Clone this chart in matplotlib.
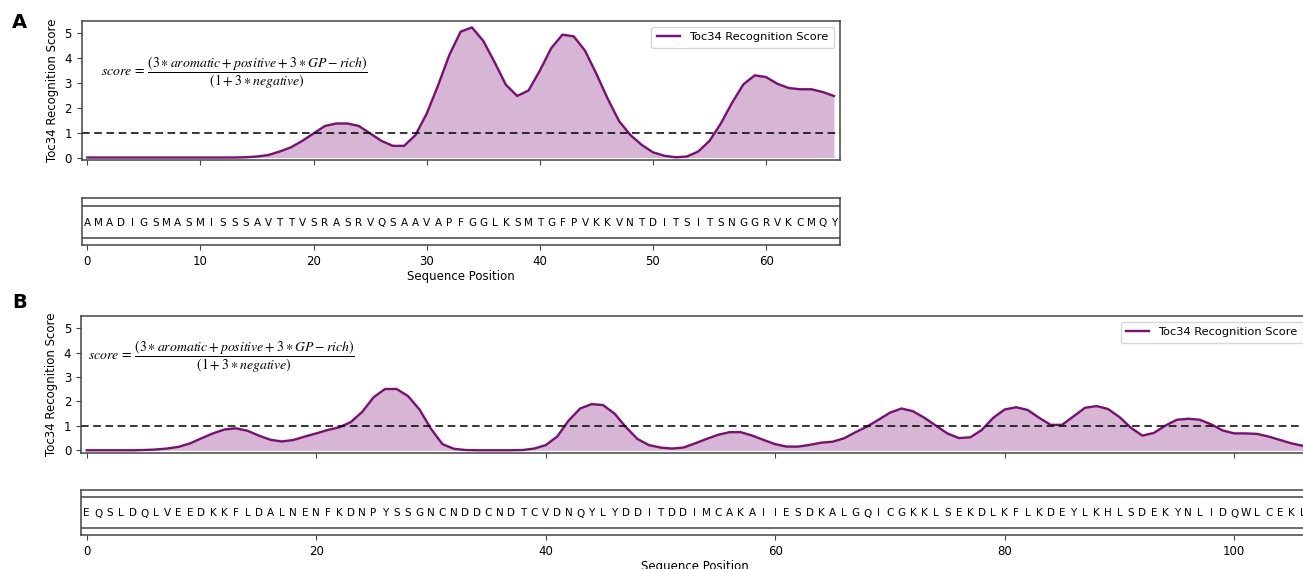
import matplotlib
matplotlib.use("Agg")
import matplotlib.pyplot as plt
from matplotlib.ticker import MultipleLocator

plt.rcParams['mathtext.fontset'] = 'stix'

# ---------------- data ----------------
seq_a = "AMADIGSMASMISSSAVTTVSRASRVQSAAVAPFGGLKSMTGFPVKKVNTDITSITSNGGRVKCMQY"
score_a = [0, 0, 0, 0, 0, 0, 0, 0, 0, 0,
           0, 0, 0, 0, 0.01, 0.04, 0.1, 0.24, 0.41, 0.67,
           0.97, 1.27, 1.37, 1.37, 1.27, 0.97, 0.67, 0.47, 0.47, 0.9,
           1.77, 2.9, 4.13, 5.07, 5.24, 4.7, 3.84, 2.93, 2.48, 2.7,
           3.5, 4.4, 4.95, 4.88, 4.3, 3.37, 2.37, 1.47, 0.91, 0.51,
           0.21, 0.07, 0.01, 0.04, 0.24, 0.67, 1.37, 2.21, 2.95, 3.31,
           3.24, 2.97, 2.8, 2.75, 2.75, 2.64, 2.48]

seq_b = ("EQSLDQLVEEDKKFLDALNENFKDNPYSSGNCNDDCNDTCVDNQYLYDDITDDIMCAKAIIESDKALGQI"
         "CGKKLSEKDLKFLKDEYLKHLSDEKYNLIDQWLCEKL")
score_b = [0, 0, 0, 0, 0, 0.01, 0.03, 0.07, 0.14, 0.28,
           0.49, 0.69, 0.85, 0.9, 0.8, 0.6, 0.43, 0.36, 0.42, 0.56,
           0.69, 0.83, 0.94, 1.15, 1.57, 2.17, 2.51, 2.51, 2.22, 1.67,
           0.88, 0.25, 0.06, 0.01, 0, 0, 0, 0, 0.01, 0.07,
           0.21, 0.56, 1.22, 1.71, 1.89, 1.85, 1.5, 0.94, 0.46, 0.21,
           0.11, 0.07, 0.11, 0.28, 0.46, 0.63, 0.74, 0.74, 0.6, 0.42,
           0.25, 0.15, 0.15, 0.22, 0.31, 0.35, 0.49, 0.74, 0.97, 1.25,
           1.54, 1.71, 1.6, 1.33, 1.01, 0.69, 0.5, 0.53, 0.83, 1.33,
           1.67, 1.76, 1.65, 1.33, 1.04, 1.04, 1.39, 1.74, 1.81, 1.69,
           1.36, 0.92, 0.6, 0.71, 1.01, 1.25, 1.29, 1.25, 1.06, 0.81,
           0.69, 0.69, 0.67, 0.56, 0.42, 0.28, 0.18]

threshold = 1.0
legend_label = "Toc34 Recognition Score"
formula = (r"$score\,=\,\dfrac{(3 \ast aromatic + positive + 3 \ast GP - rich)}"
           r"{(1 + 3 \ast negative)}$")

# ---------------- layout ----------------
W, H = 1303, 569
fig = plt.figure(figsize=(W / 100, H / 100), dpi=100)


def px_axes(left, top, right, bottom):
    return fig.add_axes([left / W, 1 - bottom / H, (right - left) / W, (bottom - top) / H])


line_color = '#7a0f73'
spine_color = '#444444'
fs = 8.5


def style_spines(ax):
    for s in ax.spines.values():
        s.set_color(spine_color)
        s.set_linewidth(1.1)


def draw_panel(score, seq, box_score, box_seq, step, formula_pos):
    n = len(seq)
    x = list(range(n))
    ax = px_axes(*box_score)
    ax.plot(x, score, color=line_color, lw=1.7, label=legend_label)
    ax.fill_between(x, score, 0, color=line_color, alpha=0.3, lw=0)
    ax.axhline(threshold, color='black', ls='--', lw=1.1, dashes=(5, 3))
    ax.set_xlim(-0.5, n - 0.5)
    ax.set_ylim(-0.1, 5.5)
    ax.yaxis.set_major_locator(MultipleLocator(1))
    ax.xaxis.set_major_locator(MultipleLocator(step))
    ax.tick_params(axis='x', labelbottom=False)
    ax.tick_params(labelsize=fs, color=spine_color)
    ax.set_ylabel(legend_label, fontsize=fs, labelpad=4)
    ax.legend(loc='upper right', fontsize=8.2, handlelength=2.0, borderpad=0.5)
    ax.text(formula_pos[0], formula_pos[1], formula, transform=ax.transAxes,
            ha='left', va='center', fontsize=9.9)
    style_spines(ax)

    axs = px_axes(*box_seq)
    axs.set_xlim(-0.5, n - 0.5)
    axs.set_ylim(0, 1)
    axs.axhline(0.84, color=spine_color, lw=1.1)
    axs.axhline(0.16, color=spine_color, lw=1.1)
    for i, ch in enumerate(seq):
        axs.text(i, 0.5, ch, ha='center', va='center_baseline', fontsize=7.5)
    axs.set_yticks([])
    axs.xaxis.set_major_locator(MultipleLocator(step))
    axs.tick_params(labelsize=fs, color=spine_color)
    axs.set_xlabel("Sequence Position", fontsize=fs, labelpad=1.5)
    style_spines(axs)
    return ax, axs


draw_panel(score_a, seq_a, (81.7, 21, 839.6, 160), (81.7, 198.3, 839.6, 245),
           10, (0.025, 0.63))
draw_panel(score_b, seq_b, (81, 316, 1308.8, 452.7), (81, 490, 1308.8, 535),
           20, (0.006, 0.70))

fig.text(12 / W, 1 - 23 / H, "A", fontsize=14, fontweight='bold', va='center', ha='left')
fig.text(12 / W, 1 - 303 / H, "B", fontsize=14, fontweight='bold', va='center', ha='left')

fig.savefig("out.png", dpi=100)
